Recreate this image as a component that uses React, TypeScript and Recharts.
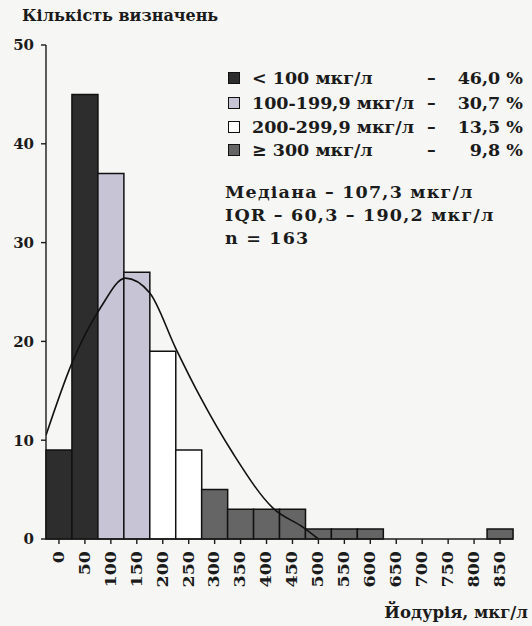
import React from "react";
import { ComposedChart, Bar, Line, XAxis, YAxis, Cell } from "recharts";

//#region Data

const bins = ["0", "50", "100", "150", "200", "250", "300", "350", "400", "450", "500", "550", "600", "650", "700", "750", "800", "850"];
const counts = [9, 45, 37, 27, 19, 9, 5, 3, 3, 3, 1, 1, 1, 0, 0, 0, 0, 1];

// fitted density curve, in the same units (µg/l on x, count on y)
const curveX = [-25, 25, 80, 128, 175, 225, 272, 335, 413, 470, 500];
const curveY = [10.5, 17.8, 23.4, 26.4, 24.9, 19.3, 14.4, 8.7, 3.1, 1.2, 0];

const yTicks = [0, 10, 20, 30, 40, 50];

const groupLabels = ["< 100 мкг/л", "100-199,9 мкг/л", "200-299,9 мкг/л", "≥ 300 мкг/л"];
const groupShares = ["46,0 %", "30,7 %", "13,5 %", "9,8 %"];
const statLines = ["Медіана – 107,3 мкг/л", "IQR – 60,3 – 190,2 мкг/л", "n = 163"];

//#endregion

const FONT = "'DejaVu Serif', serif";
const INK = "#1b1b1b";
const groupColors = ["#2d2d2d", "#c7c5d5", "#ffffff", "#656565"];

const groupOf = (bin: string) => {
  const v = Number(bin);
  if (v < 100) return 0;
  if (v < 200) return 1;
  if (v < 300) return 2;
  return 3;
};

const histData = bins.map((bin, i) => ({ bin, count: counts[i] }));
const curveData = curveX.map((x, i) => ({ x, y: curveY[i] }));

type TickProps = { x?: number; y?: number; payload?: { value: string } };

// rotated bin labels under the x axis
const BinTick = ({ x = 0, y = 0, payload }: TickProps) => (
  <text
    transform={`translate(${x}, ${y + 5}) rotate(-90) scale(1.25, 1)`}
    textAnchor="end"
    dominantBaseline="central"
    fontFamily={FONT}
    fontWeight="bold"
    fontSize={14}
    fill={INK}
  >
    {payload?.value}
  </text>
);

const textStyle: React.CSSProperties = {
  position: "absolute",
  fontFamily: FONT,
  fontWeight: "bold",
  fontSize: 17.5,
  lineHeight: "20px",
  color: INK,
  whiteSpace: "nowrap",
};

const App = () => {
  const legendTops = [68, 93, 117, 140];
  const statTops = [182, 205, 228];

  return (
    <div style={{ position: "absolute", left: 0, top: 0, width: 532, height: 626, background: "#f6f6f4" }}>
      <div style={{ ...textStyle, left: 22, top: 6, fontSize: 16 }}>Кількість визначень</div>

      <ComposedChart
        width={532}
        height={626}
        data={histData}
        margin={{ top: 45, right: 19, bottom: 0, left: 0 }}
        barCategoryGap={0}
        barGap={0}
      >
        <XAxis
          xAxisId="bins"
          dataKey="bin"
          type="category"
          height={87}
          interval={0}
          tickSize={5}
          tick={<BinTick />}
          axisLine={{ stroke: INK, strokeWidth: 1.4 }}
          tickLine={{ stroke: INK, strokeWidth: 1.4 }}
        />
        <XAxis xAxisId="curve" dataKey="x" type="number" domain={[-25, 875]} hide allowDataOverflow />
        <YAxis
          width={46}
          domain={[0, 50]}
          ticks={yTicks}
          tickSize={5}
          tickMargin={7}
          axisLine={{ stroke: INK, strokeWidth: 1.4 }}
          tickLine={{ stroke: INK, strokeWidth: 1.4 }}
          tick={{ fill: INK, fontSize: 15, fontWeight: "bold", fontFamily: FONT }}
        />
        <Bar xAxisId="bins" dataKey="count" stroke="#111" strokeWidth={1.5} isAnimationActive={false}>
          {histData.map((d) => (
            <Cell key={d.bin} fill={groupColors[groupOf(d.bin)]} />
          ))}
        </Bar>
        <Line
          xAxisId="curve"
          data={curveData}
          dataKey="y"
          type="monotone"
          dot={false}
          stroke="#111"
          strokeWidth={1.6}
          isAnimationActive={false}
        />
      </ComposedChart>

      {groupLabels.map((label, i) => (
        <React.Fragment key={label}>
          <div
            style={{
              position: "absolute",
              left: 228,
              top: legendTops[i] + 4,
              width: 10,
              height: 10,
              border: "1px solid #111",
              background: groupColors[i],
            }}
          />
          <div style={{ ...textStyle, left: 252, top: legendTops[i] }}>{label}</div>
          <div style={{ ...textStyle, left: 427, top: legendTops[i] }}>–</div>
          <div style={{ ...textStyle, right: 9, top: legendTops[i] }}>{groupShares[i]}</div>
        </React.Fragment>
      ))}

      {statLines.map((line, i) => (
        <div key={line} style={{ ...textStyle, left: 225, top: statTops[i], letterSpacing: 1.2 }}>
          {line}
        </div>
      ))}

      <div style={{ ...textStyle, right: 4, top: 603, fontSize: 16.5 }}>Йодурія, мкг/л</div>
    </div>
  );
};

export default App;
